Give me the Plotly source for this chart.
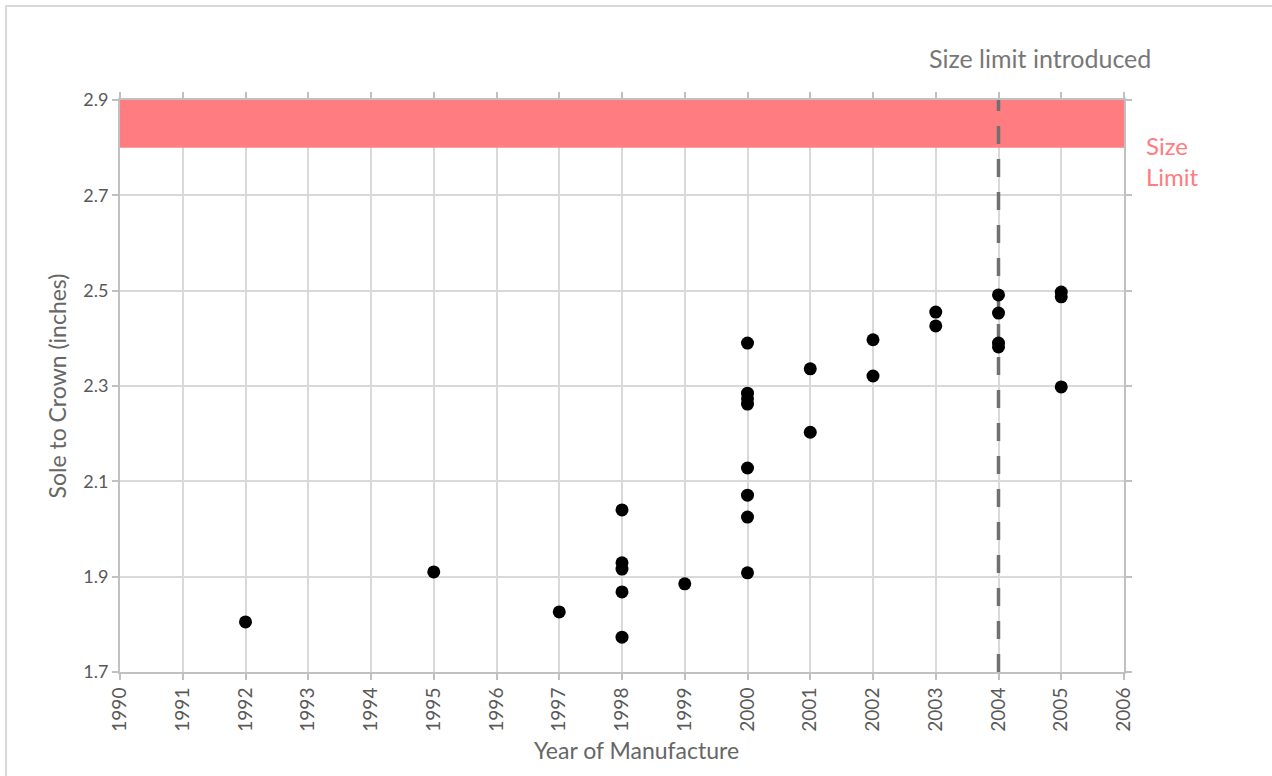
import plotly.graph_objects as go

years = [1992, 1995, 1997,
         1998, 1998, 1998, 1998, 1998,
         1999,
         2000, 2000, 2000, 2000, 2000, 2000, 2000, 2000,
         2001, 2001,
         2002, 2002,
         2003, 2003,
         2004, 2004, 2004, 2004,
         2005, 2005, 2005]
heights = [1.805, 1.910, 1.826,
           2.040, 1.929, 1.916, 1.868, 1.773,
           1.885,
           2.390, 2.285, 2.273, 2.262, 2.128, 2.071, 2.025, 1.908,
           2.336, 2.203,
           2.397, 2.321,
           2.455, 2.426,
           2.491, 2.453, 2.390, 2.382,
           2.497, 2.487, 2.298]

limit_low, limit_high = 2.8, 2.9
intro_year = 2004
x_ticks = list(range(1990, 2007))
y_ticks = [1.7, 1.9, 2.1, 2.3, 2.5, 2.7, 2.9]

FONT = "Lato, 'Open Sans', sans-serif"

fig = go.Figure()

fig.add_shape(type="rect", xref="x", yref="y", x0=1990, x1=2006,
              y0=limit_low, y1=limit_high, fillcolor="#FF7C80",
              line=dict(width=0), layer="between")
fig.add_shape(type="line", xref="x", yref="y", x0=intro_year, x1=intro_year,
              y0=1.7, y1=2.9, line=dict(color="#707070", width=3.5, dash="18px,15px"),
              layer="between")
# outer border
fig.add_shape(type="rect", xref="paper", yref="paper",
              x0=-0.1135, x1=1.3, y0=-0.4, y1=1.1643,
              line=dict(color="#d9d9d9", width=2), fillcolor="rgba(0,0,0,0)")

fig.add_trace(go.Scatter(x=years, y=heights, mode="markers",
                         marker=dict(color="black", size=13),
                         showlegend=False, hoverinfo="x+y"))

fig.add_annotation(xref="paper", yref="paper", x=(927 - 120) / 1004, y=(672 - 58) / 572,
                   xanchor="left", yanchor="middle", showarrow=False,
                   text="Size limit introduced",
                   font=dict(family=FONT, size=25, color="#777777"))
fig.add_annotation(xref="paper", yref="paper", x=(1144 - 120) / 1004, y=(672 - 161) / 572,
                   xanchor="left", yanchor="middle", showarrow=False,
                   text="Size<br>Limit", align="left",
                   font=dict(family=FONT, size=24, color="#FF7C80"))
fig.add_annotation(xref="paper", yref="paper", x=(636 - 120) / 1004, y=(672 - 750) / 572,
                   xanchor="center", yanchor="middle", showarrow=False,
                   text="Year of Manufacture",
                   font=dict(family=FONT, size=23, color="#666666"))

axis_common = dict(showgrid=True, gridcolor="#d9d9d9", gridwidth=2,
                   showline=True, linecolor="#c0c0c0", linewidth=2,
                   mirror="ticks", ticks="outside", ticklen=6,
                   tickcolor="#c0c0c0", tickwidth=2, zeroline=False)

fig.update_xaxes(range=[1990, 2006], tickvals=x_ticks,
                 ticktext=[str(v) for v in x_ticks], tickangle=-90,
                 tickfont=dict(family=FONT, size=19, color="#595959"),
                 **axis_common)
fig.update_yaxes(range=[1.7, 2.9], tickvals=y_ticks,
                 ticktext=[f"{v:.1f}" for v in y_ticks],
                 tickfont=dict(family=FONT, size=18, color="#595959"),
                 title=dict(text="Sole to Crown (inches)", standoff=10,
                            font=dict(family=FONT, size=23, color="#666666")),
                 **axis_common)

fig.update_layout(width=1272, height=776,
                  margin=dict(l=120, r=148, t=100, b=104),
                  plot_bgcolor="white", paper_bgcolor="white",
                  font=dict(family=FONT))

fig.write_html("out.html", config={"displayModeBar": False},
               post_script="document.body.style.margin='0';")
